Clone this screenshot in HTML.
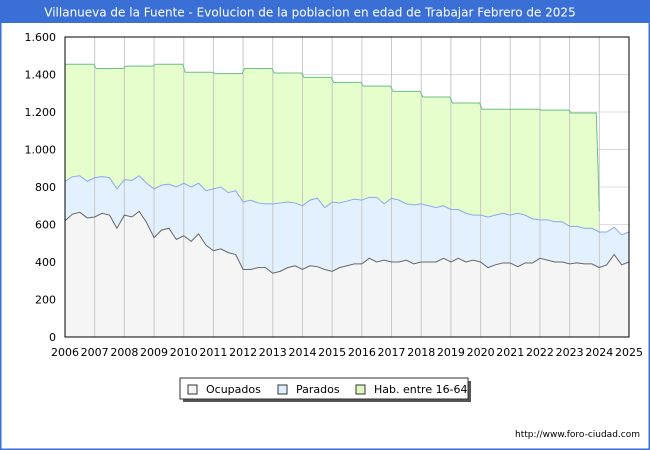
<!DOCTYPE html>
<html><head><meta charset="utf-8"><style>
body{margin:0;background:#fff;font-family:"DejaVu Sans","Liberation Sans",sans-serif}
#wrap{position:relative;width:650px;height:450px;overflow:hidden}
svg text{font-family:"DejaVu Sans","Liberation Sans",sans-serif}
</style></head><body>
<div id="wrap">
<svg id="chart" width="650" height="450" xmlns="http://www.w3.org/2000/svg">
<rect x="0" y="0" width="650" height="450" fill="#fff"/>
<rect x="0.5" y="0.5" width="649" height="449" fill="none" stroke="#3a70d6" stroke-width="2"/>
<rect x="0" y="0" width="650" height="23" fill="#3a70d6"/>
<text x="310" y="16.5" text-anchor="middle" font-size="12" fill="#fff">Villanueva de la Fuente - Evolucion de la poblacion en edad de Trabajar Febrero de 2025</text>
<g id="grid"></g>
<g id="series"></g>
<g id="axes"></g>
<g>
<rect x="183" y="381" width="288" height="21" fill="#555"/>
<rect x="180" y="378" width="288" height="21" fill="#fff" stroke="#333"/>
<g><rect x="188" y="385" width="9" height="9" fill="#f4f4f4" stroke="#333"/><text x="206" y="393" font-size="11" fill="#000">Ocupados</text></g>
<g><rect x="278" y="385" width="9" height="9" fill="#dfefff" stroke="#333"/><text x="296" y="393" font-size="11" fill="#000">Parados</text></g>
<g><rect x="356" y="385" width="9" height="9" fill="#ddf9bf" stroke="#333"/><text x="374" y="393" font-size="11" fill="#000">Hab. entre 16-64</text></g>
</g>
<text x="640" y="437" text-anchor="end" font-size="9" fill="#000">http://www.foro-ciudad.com</text>
</svg>
</div>
<script>
const yearLabels=[2006,2007,2008,2009,2010,2011,2012,2013,2014,2015,2016,2017,2018,2019,2020,2021,2022,2023,2024,2025];
const yTicks=[0,200,400,600,800,1000,1200,1400,1600];
const yTickLabels=["0","200","400","600","800","1.000","1.200","1.400","1.600"];
const habYears=[2006,2007,2008,2009,2010,2011,2012,2013,2014,2015,2016,2017,2018,2019,2020,2021,2022,2023];
const habValues=[1455,1432,1445,1455,1412,1405,1432,1408,1385,1358,1338,1310,1280,1248,1215,1215,1210,1195];
const habEndValue=670;
// quarterly samples from 2006.00 to 2025.00
const ocupados=[620,655,665,635,640,660,650,580,650,640,670,610,530,570,580,520,540,510,550,490,460,470,450,440,360,360,370,370,340,350,370,380,360,380,375,360,350,370,380,390,390,420,400,410,400,400,410,390,400,400,400,420,400,420,400,410,400,370,385,395,395,375,395,395,420,410,400,400,390,395,390,390,370,385,440,385,400];
const parados=[210,200,195,195,210,195,200,210,190,195,190,210,260,240,235,280,280,290,270,290,330,330,320,340,360,370,345,340,370,365,350,335,340,350,365,330,370,345,345,345,340,325,345,300,340,330,300,315,310,300,290,280,280,260,260,240,250,270,265,265,255,285,255,235,205,215,215,215,200,195,190,190,190,175,145,160,160];
const startYear=2006;

const X0=65,X1=629,Y0=337,Y1=37;
const xs=y=>X0+(y-2006)/(2025-2006)*(X1-X0);
const ys=v=>Y0-v/1600*(Y0-Y1);
const NS="http://www.w3.org/2000/svg";
function mk(tag,attrs,parent){const e=document.createElementNS(NS,tag);for(const k in attrs)e.setAttribute(k,attrs[k]);parent.appendChild(e);return e;}
const grid=document.getElementById('grid'),series=document.getElementById('series'),axes=document.getElementById('axes');
mk('rect',{x:X0,y:Y1,width:X1-X0,height:Y0-Y1,fill:'#fff'},grid);
yTicks.forEach((v,i)=>{
 const l=mk('line',{x1:X0,x2:X1,y1:ys(v),y2:ys(v),stroke:'#dcdcdc','stroke-width':1},grid);
 
 
 const t=mk('text',{x:X0-9,y:ys(v)+4,'text-anchor':'end','font-size':11,fill:'#000'},axes);
 t.textContent=yTickLabels[i];
 
 
});
const qx=i=>xs(startYear+i*0.25);
let habPts=[];
habYears.forEach((yr,i)=>{habPts.push([xs(yr)+(i?1.5:0),ys(habValues[i])]);habPts.push([xs(yr+1)-(i<habYears.length-1?1:3),ys(habValues[i])]);});
habPts.push([xs(2024),ys(habEndValue)]);
const habArea=mk('path',{d:'M'+X0+','+Y0+' '+habPts.map(p=>'L'+p[0]+','+p[1]).join(' ')+' L'+xs(2024)+','+Y0+'Z',fill:'#e6fdcc'},series);


const totPts=ocupados.map((o,i)=>[qx(i),ys(o+parados[i])]);
const ocPts=ocupados.map((o,i)=>[qx(i),ys(o)]);
const area=(pts)=>'M'+pts[0][0]+','+Y0+' '+pts.map(p=>'L'+p[0]+','+p[1]).join(' ')+' L'+pts[pts.length-1][0]+','+Y0+'Z';
const line=(pts)=>'M'+pts.map(p=>p[0]+','+p[1]).join(' L');
const pa=mk('path',{d:area(totPts),fill:'#e3f1fe'},series);


const oa=mk('path',{d:area(ocPts),fill:'#f5f5f5'},series);


yearLabels.forEach(yr=>{
 const l=mk('line',{x1:xs(yr),x2:xs(yr),y1:Y1,y2:Y0,stroke:'#c8c8c8','stroke-width':1},series);
 
 
 const t=mk('text',{x:xs(yr),y:Y0+19,'text-anchor':'middle','font-size':11,fill:'#000'},axes);
 t.textContent=yr;
 
 
});
const hl=mk('path',{d:line(habPts),fill:'none',stroke:'#6dbf8c','stroke-width':1},series);


const pl=mk('path',{d:line(totPts),fill:'none',stroke:'#8aa9ee','stroke-width':1},series);


const ol=mk('path',{d:line(ocPts),fill:'none',stroke:'#666','stroke-width':1},series);


const fr=mk('rect',{x:X0,y:Y1,width:X1-X0,height:Y0-Y1,fill:'none',stroke:'#000','stroke-width':1},axes);


</script>
</body></html>
